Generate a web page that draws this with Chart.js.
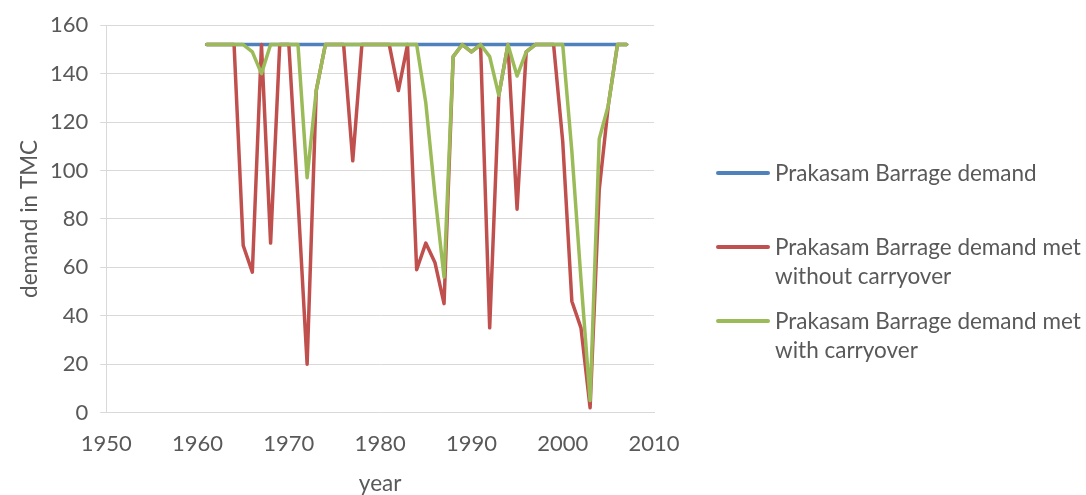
<!DOCTYPE html>
<html>
<head>
<meta charset="utf-8">
<script src="https://cdn.jsdelivr.net/npm/chart.js@4"></script>
<style>
  html, body { margin: 0; padding: 0; background: #fff; }
  #wrap { position: relative; width: 1086px; height: 495px; }
  #legend { position: absolute; left: 716px; top: 0; width: 370px;
    font-family: Lato, "Open Sans", sans-serif; font-size: 22.5px; color: #595959; line-height: 29px; }
  .item { position: absolute; left: 0; padding-left: 59px; width: 320px; }
  .item .swatch { position: absolute; left: 0; top: 13px; width: 54px; height: 4px; border-radius: 2px; }
</style>
</head>
<body>
<div id="wrap">
  <canvas id="chart" width="1086" height="495"></canvas>
  <div id="legend"></div>
</div>
<script>
// years of record
const years = [1961, 1962, 1963, 1964, 1965, 1966, 1967, 1968, 1969, 1970,
  1971, 1972, 1973, 1974, 1975, 1976, 1977, 1978, 1979, 1980,
  1981, 1982, 1983, 1984, 1985, 1986, 1987, 1988, 1989, 1990,
  1991, 1992, 1993, 1994, 1995, 1996, 1997, 1998, 1999, 2000,
  2001, 2002, 2003, 2004, 2005, 2006, 2007];

const demand = [152, 152, 152, 152, 152, 152, 152, 152, 152, 152,
  152, 152, 152, 152, 152, 152, 152, 152, 152, 152,
  152, 152, 152, 152, 152, 152, 152, 152, 152, 152,
  152, 152, 152, 152, 152, 152, 152, 152, 152, 152,
  152, 152, 152, 152, 152, 152, 152];

const metNoCarry = [152, 152, 152, 152, 69, 58, 152, 70, 152, 152,
  88, 20, 133, 152, 152, 152, 104, 152, 152, 152,
  152, 133, 152, 59, 70, 62, 45, 147, 152, 149,
  152, 35, 131, 152, 84, 149, 152, 152, 152, 112,
  46, 35, 2, 92, 127, 152, 152];

const metCarry = [152, 152, 152, 152, 152, 149, 140, 152, 152, 152,
  152, 97, 133, 152, 152, 152, 152, 152, 152, 152,
  152, 152, 152, 152, 128, 90, 56, 147, 152, 149,
  152, 147, 131, 152, 139, 149, 152, 152, 152, 152,
  108, 55, 5, 113, 127, 152, 152];

const seriesNames = ["Prakasam Barrage demand",
  "Prakasam Barrage demand met without carryover",
  "Prakasam Barrage demand met with carryover"];
const colors = ["#4F81BD", "#C0504D", "#9BBB59"];

const yTicks = [0, 20, 40, 60, 80, 100, 120, 140, 160];
const xTicks = [1950, 1960, 1970, 1980, 1990, 2000, 2010];

const toPts = vals => vals.map((v, i) => ({ x: years[i], y: v }));
const font = "Lato, 'Open Sans', sans-serif";
const grey = "#595959";

const sets = [demand, metNoCarry, metCarry].map((vals, i) => ({
  label: seriesNames[i],
  data: toPts(vals),
  borderColor: colors[i],
  backgroundColor: colors[i],
  borderWidth: 3.5,
  borderJoinStyle: "round",
  borderCapStyle: "round",
  pointRadius: 0,
  tension: 0,
  order: 3 - i
}));

new Chart(document.getElementById("chart"), {
  type: "line",
  data: { datasets: sets },
  options: {
    responsive: false,
    animation: false,
    layout: { padding: { left: 16, right: 432, top: -5, bottom: -2 } },
    plugins: { legend: { display: false }, tooltip: { enabled: false } },
    scales: {
      x: {
        type: "linear", min: 1950, max: 2010,
        afterBuildTicks: ax => { ax.ticks = xTicks.map(v => ({ value: v })); },
        ticks: { color: grey, font: { family: font, size: 22 }, padding: 10, callback: v => String(v) },
        grid: { display: false },
        border: { display: true, color: "#d9d9d9", width: 1 },
        title: { display: true, text: "year", color: grey, font: { family: font, size: 22.5 }, padding: { top: 3, bottom: 0 } }
      },
      y: {
        min: 0, max: 160,
        afterBuildTicks: ax => { ax.ticks = yTicks.map(v => ({ value: v })); },
        ticks: { color: grey, font: { family: font, size: 22 }, padding: 12 },
        grid: { color: "#d9d9d9", lineWidth: 1, drawTicks: true, tickLength: 6 },
        border: { display: true, color: "#d9d9d9" },
        title: { display: true, text: "demand in TMC", color: grey, font: { family: font, size: 22.5 }, padding: { top: 0, bottom: -5 } }
      }
    }
  }
});

const legend = document.getElementById("legend");
const legendTops = [158, 232, 306];
seriesNames.forEach((name, i) => {
  const d = document.createElement("div");
  d.className = "item";
  d.style.top = legendTops[i] + "px";
  d.innerHTML = '<span class="swatch" style="background:' + colors[i] + '"></span>' + name;
  legend.appendChild(d);
});
</script>
</body>
</html>
